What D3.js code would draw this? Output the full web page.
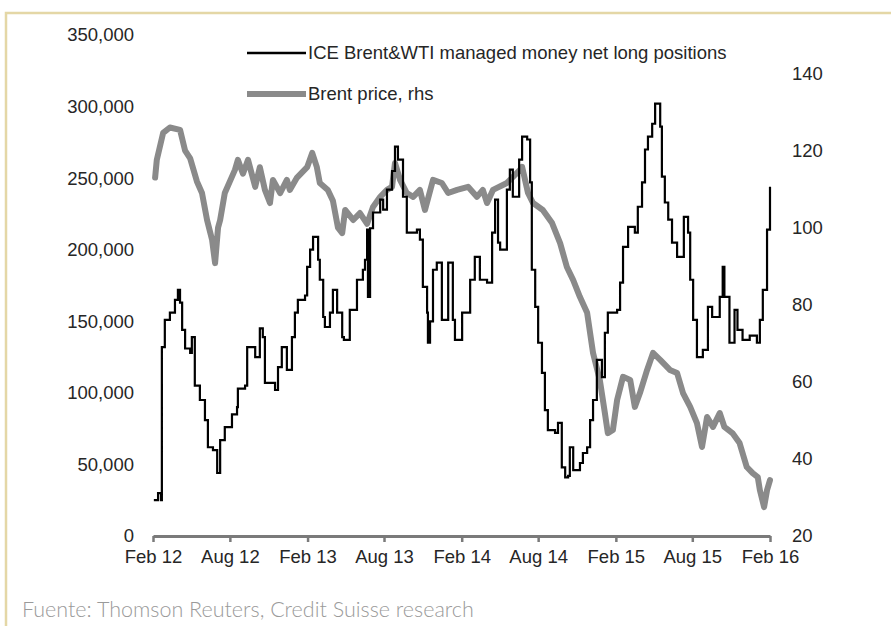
<!DOCTYPE html>
<html>
<head>
<meta charset="utf-8">
<script src="https://cdn.jsdelivr.net/npm/d3@7"></script>
<style>
  html, body { margin: 0; padding: 0; background: #fff; }
  svg text { font-family: "Liberation Sans", Arial, sans-serif; }
</style>
</head>
<body>
<div id="chart"></div>
<script>
// ICE Brent & WTI managed money net long positions (weekly, contracts)
const positionDates = [
  '2012-02-03', '2012-02-13', '2012-02-20', '2012-02-22', '2012-02-29', '2012-03-12', '2012-03-24', '2012-03-31',
  '2012-04-05', '2012-04-10', '2012-04-17', '2012-04-29', '2012-05-03', '2012-05-10', '2012-05-22', '2012-06-03',
  '2012-06-10', '2012-06-22', '2012-07-02', '2012-07-09', '2012-07-20', '2012-08-06', '2012-08-18', '2012-08-20',
  '2012-09-06', '2012-09-11', '2012-09-30', '2012-10-11', '2012-10-18', '2012-10-23', '2012-11-16', '2012-11-23',
  '2012-12-02', '2012-12-14', '2012-12-26', '2013-01-02', '2013-01-09', '2013-01-26', '2013-01-31', '2013-02-07',
  '2013-02-14', '2013-02-26', '2013-03-02', '2013-03-10', '2013-03-14', '2013-03-26', '2013-04-02', '2013-04-12',
  '2013-04-24', '2013-04-28', '2013-05-12', '2013-05-29', '2013-06-12', '2013-06-17', '2013-06-22', '2013-06-24',
  '2013-06-29', '2013-07-06', '2013-07-23', '2013-07-30', '2013-08-08', '2013-08-20', '2013-08-27', '2013-09-03',
  '2013-09-15', '2013-09-24', '2013-10-18', '2013-10-25', '2013-11-01', '2013-11-11', '2013-11-13', '2013-11-18',
  '2013-11-25', '2013-12-04', '2013-12-16', '2013-12-31', '2014-01-11', '2014-01-16', '2014-02-02', '2014-02-21',
  '2014-03-04', '2014-03-16', '2014-04-02', '2014-04-14', '2014-04-21', '2014-04-28', '2014-05-03', '2014-05-19',
  '2014-05-26', '2014-06-02', '2014-06-17', '2014-06-24', '2014-07-06', '2014-07-13', '2014-07-17', '2014-07-25',
  '2014-08-01', '2014-08-10', '2014-08-17', '2014-08-24', '2014-09-10', '2014-09-17', '2014-09-26', '2014-10-04',
  '2014-10-11', '2014-10-15', '2014-10-23', '2014-11-08', '2014-11-15', '2014-11-25', '2014-12-02', '2014-12-09',
  '2014-12-18', '2014-12-30', '2015-01-06', '2015-01-13', '2015-02-04', '2015-02-11', '2015-02-18', '2015-03-02',
  '2015-03-18', '2015-03-25', '2015-04-04', '2015-04-11', '2015-04-18', '2015-04-28', '2015-05-05', '2015-05-17',
  '2015-05-21', '2015-05-28', '2015-06-05', '2015-06-14', '2015-06-26', '2015-07-03', '2015-07-12', '2015-07-22',
  '2015-07-27', '2015-08-03', '2015-08-12', '2015-08-26', '2015-09-07', '2015-09-17', '2015-10-05', '2015-10-12',
  '2015-10-16', '2015-10-28', '2015-11-09', '2015-11-16', '2015-11-28', '2015-12-15', '2016-01-01', '2016-01-08',
  '2016-01-15', '2016-01-25', '2016-02-01'
];
const positionValues = [
  25000, 30000, 25000, 132000, 151000, 156000, 165000, 172000,
  163000, 144000, 131000, 128000, 139000, 105000, 95000, 81000,
  62000, 60000, 44000, 67000, 76000, 85000, 90000, 103000,
  105000, 132000, 125000, 145000, 139000, 107000, 102000, 118000,
  132000, 116000, 139000, 156000, 165000, 168000, 188000, 200000,
  209000, 193000, 179000, 153000, 146000, 156000, 172000, 156000,
  139000, 137000, 158000, 179000, 186000, 193000, 214000, 167000,
  215000, 226000, 235000, 228000, 242000, 255000, 272000, 263000,
  237000, 212000, 214000, 207000, 174000, 156000, 135000, 150000,
  186000, 191000, 151000, 191000, 151000, 137000, 156000, 179000,
  195000, 179000, 177000, 212000, 235000, 205000, 200000, 242000,
  256000, 237000, 263000, 279000, 277000, 247000, 186000, 160000,
  135000, 114000, 88000, 74000, 72000, 79000, 48000, 41000,
  42000, 62000, 46000, 51000, 58000, 62000, 81000, 95000,
  123000, 111000, 142000, 156000, 158000, 177000, 202000, 216000,
  212000, 230000, 247000, 270000, 279000, 288000, 302000, 286000,
  251000, 233000, 221000, 205000, 195000, 195000, 223000, 212000,
  179000, 151000, 125000, 130000, 160000, 153000, 167000, 188000,
  167000, 135000, 158000, 144000, 137000, 140000, 135000, 151000,
  172000, 214000, 244000
];

// Brent price, USD/bbl (right axis)
const brentDates = [
  '2012-02-06', '2012-02-10', '2012-02-25', '2012-03-12', '2012-04-05', '2012-04-17', '2012-04-29', '2012-05-15',
  '2012-05-27', '2012-06-08', '2012-06-20', '2012-06-27', '2012-07-04', '2012-07-09', '2012-07-20', '2012-08-13',
  '2012-08-20', '2012-09-01', '2012-09-13', '2012-09-30', '2012-10-11', '2012-10-23', '2012-11-04', '2012-11-11',
  '2012-11-28', '2012-12-14', '2012-12-21', '2013-01-07', '2013-01-31', '2013-02-12', '2013-02-23', '2013-03-02',
  '2013-03-21', '2013-04-02', '2013-04-14', '2013-04-24', '2013-05-01', '2013-05-20', '2013-06-05', '2013-06-22',
  '2013-07-06', '2013-07-23', '2013-08-08', '2013-08-20', '2013-08-27', '2013-09-08', '2013-09-24', '2013-10-09',
  '2013-10-25', '2013-11-06', '2013-11-25', '2013-12-16', '2013-12-31', '2014-01-21', '2014-02-16', '2014-03-09',
  '2014-03-23', '2014-04-02', '2014-04-16', '2014-05-19', '2014-06-19', '2014-06-24', '2014-07-08', '2014-07-20',
  '2014-08-12', '2014-09-03', '2014-09-22', '2014-10-08', '2014-10-23', '2014-11-08', '2014-11-25', '2014-12-09',
  '2014-12-25', '2015-01-06', '2015-01-13', '2015-01-25', '2015-02-04', '2015-02-18', '2015-03-07', '2015-03-18',
  '2015-03-30', '2015-04-16', '2015-04-30', '2015-05-17', '2015-06-09', '2015-06-26', '2015-07-10', '2015-07-27',
  '2015-08-12', '2015-08-24', '2015-09-05', '2015-09-19', '2015-10-05', '2015-10-16', '2015-11-04', '2015-11-21',
  '2015-12-08', '2015-12-22', '2016-01-03', '2016-01-08', '2016-01-18', '2016-01-25', '2016-02-01'
];
const brentValues = [
  113, 117.6, 124.6, 126, 125.4, 120, 118, 112,
  109, 102, 96.8, 90.8, 100, 102, 109, 115,
  117.6, 114, 117.6, 110.6, 115.7, 109.8, 106.4, 112.4,
  109, 112.4, 109.8, 113, 115.7, 119.4, 115.7, 111.6,
  109.8, 107, 100, 98.6, 104.6, 102, 103.8, 101,
  105.4, 108, 109.8, 110.6, 116.8, 112.4, 109, 108,
  109.8, 104.6, 112.4, 111.6, 109, 109.8, 110.6, 108,
  109.8, 106.4, 109.8, 111.6, 115, 115.8, 109, 106.4,
  104.6, 101.2, 96, 89.8, 86.4, 82, 77.9, 67.5,
  60.5, 51.9, 46.7, 47.5, 55.3, 61.3, 60.5, 53.5,
  57.1, 63.1, 67.5, 65.7, 63.1, 62.3, 57.1, 53.5,
  49.3, 43.1, 50.9, 48.3, 51.9, 48.3, 46.7, 44.1,
  37.9, 36.3, 35.3, 31.9, 27.5, 31.9, 34.5
];

const xTicks = ['2012-02-01', '2012-08-01', '2013-02-01', '2013-08-01', '2014-02-01',
                '2014-08-01', '2015-02-01', '2015-08-01', '2016-02-01'];
const leftTicks = [0, 50000, 100000, 150000, 200000, 250000, 300000, 350000];
const rightTicks = [20, 40, 60, 80, 100, 120, 140];
const seriesNames = ['ICE Brent&WTI managed money net long positions', 'Brent price, rhs'];
const sourceText = 'Fuente: Thomson Reuters, Credit Suisse research';

const width = 891;
const height = 626;
const parse = d3.utcParse('%Y-%m-%d');
const labelFont = '18.5px';

const positions = positionDates.map((d, i) => ({ date: parse(d), value: positionValues[i] }));
const brent = brentDates.map((d, i) => ({ date: parse(d), value: brentValues[i] }));

const svg = d3.select('#chart')
  .append('svg')
  .attr('width', width)
  .attr('height', height);

svg.append('rect')
  .attr('width', width)
  .attr('height', height)
  .attr('fill', '#fff');

// tan frame along top and left edge
svg.append('path')
  .attr('d', `M6,${height} L6,13 L${width},13`)
  .attr('fill', 'none')
  .attr('stroke', '#e4d7a6')
  .attr('stroke-width', 2.5);

const x = d3.scaleUtc()
  .domain([parse('2012-02-01'), parse('2016-02-01')])
  .range([153, 770]);

const yLeft = d3.scaleLinear()
  .domain([0, 350000])
  .range([536, 35]);

const yRight = d3.scaleLinear()
  .domain([20, 150])
  .range([536, 35]);

// y axes: labels only
const leftAxis = svg.append('g')
  .attr('transform', 'translate(153,0)')
  .call(d3.axisLeft(yLeft).tickValues(leftTicks).tickFormat(d3.format(',')).tickSize(0).tickPadding(19));

const rightAxis = svg.append('g')
  .attr('transform', 'translate(770,0)')
  .call(d3.axisRight(yRight).tickValues(rightTicks).tickSize(0).tickPadding(22));

[leftAxis, rightAxis].forEach(g => {
  g.select('.domain').remove();
  g.selectAll('text')
    .attr('font-size', labelFont)
    .attr('fill', '#262626')
    .style('font-family', '"Liberation Sans", Arial, sans-serif');
});

// lines
const brentLine = d3.line()
  .x(d => x(d.date))
  .y(d => yRight(d.value));

const positionLine = d3.line()
  .x(d => x(d.date))
  .y(d => yLeft(d.value))
  .curve(d3.curveStepAfter);

svg.append('path')
  .datum(brent)
  .attr('d', brentLine)
  .attr('fill', 'none')
  .attr('stroke', '#8a8a8a')
  .attr('stroke-width', 6)
  .attr('stroke-linejoin', 'round')
  .attr('stroke-linecap', 'round');

svg.append('path')
  .datum(positions)
  .attr('d', positionLine)
  .attr('fill', 'none')
  .attr('stroke', '#000')
  .attr('stroke-width', 2.2);

// x axis
const xAxis = svg.append('g')
  .attr('transform', 'translate(0,536)')
  .call(d3.axisBottom(x)
    .tickValues(xTicks.map(parse))
    .tickFormat(d3.utcFormat('%b %y'))
    .tickSizeInner(6)
    .tickSizeOuter(0)
    .tickPadding(8));

xAxis.select('.domain')
  .attr('stroke', '#7a7a7a')
  .attr('stroke-width', 3);

xAxis.selectAll('.tick line')
  .attr('stroke', '#7a7a7a')
  .attr('stroke-width', 2.5);

xAxis.selectAll('text')
  .attr('font-size', labelFont)
  .attr('fill', '#262626')
  .style('font-family', '"Liberation Sans", Arial, sans-serif');

// legend
const legend = svg.append('g');
const legendItems = [
  { name: seriesNames[0], y: 53, stroke: '#000', width: 2.5 },
  { name: seriesNames[1], y: 94, stroke: '#8a8a8a', width: 6 }
];

legendItems.forEach(item => {
  legend.append('line')
    .attr('x1', 247)
    .attr('x2', 306)
    .attr('y1', item.y)
    .attr('y2', item.y)
    .attr('stroke', item.stroke)
    .attr('stroke-width', item.width);

  legend.append('text')
    .attr('x', 308)
    .attr('y', item.y)
    .attr('dy', '0.35em')
    .attr('font-size', labelFont)
    .attr('fill', '#262626')
    .text(item.name);
});

// source note
svg.append('text')
  .attr('x', 22)
  .attr('y', 617)
  .attr('font-size', '21.5px')
  .attr('font-weight', 300)
  .attr('fill', '#9a9a9a')
  .style('font-family', 'Lato, "Open Sans", sans-serif')
  .text(sourceText);
</script>
</body>
</html>
